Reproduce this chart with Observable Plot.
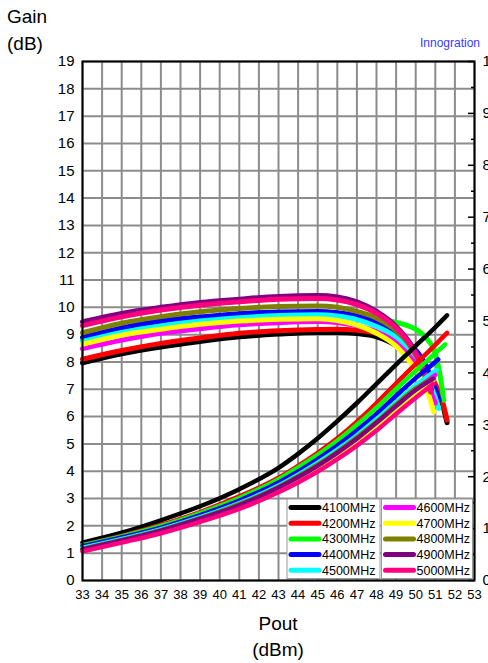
<!DOCTYPE html>
<html><head><meta charset="utf-8">
<script src="https://cdn.jsdelivr.net/npm/d3@7"></script>
<script src="https://cdn.jsdelivr.net/npm/@observablehq/plot@0.6"></script>
<style>
html,body{margin:0;padding:0;background:#fff;}
#wrap{position:relative;width:488px;height:663px;overflow:hidden;font-family:"Liberation Sans",Arial,sans-serif;}
#wrap svg{position:absolute;left:0;top:0;}
</style></head><body><div id="wrap"></div>
<script>
const freqs = ["4100MHz","4200MHz","4300MHz","4400MHz","4500MHz","4600MHz","4700MHz","4800MHz","4900MHz","5000MHz"];
const colors = ["#000000","#ff0000","#00ff00","#0000ff","#00ffff","#ff00ff","#ffff00","#808000","#800080","#ff0080"];

// Gain (dB) vs Pout (dBm)
const gain4100 = [[33,7.97],[35,8.3],[37,8.55],[39,8.75],[41,8.92],[43,9.02],[45,9.08],[46,9.08],[47,9.04],[48,8.92],[49,8.6],[50,8.0],[50.8,7.2],[51.35,6.5],[51.6,5.78]];
const gain4200 = [[33,8.1],[35,8.42],[37,8.68],[39,8.88],[41,9.05],[43,9.14],[45,9.19],[46,9.2],[47,9.16],[48,9.05],[49,8.75],[50,8.2],[50.8,7.45],[51.35,6.6],[51.6,5.87]];
const gain4300 = [[33,8.8],[35,9.1],[37,9.35],[39,9.52],[41,9.65],[43,9.73],[45,9.78],[46,9.77],[47,9.72],[48,9.62],[49,9.45],[49.5,9.35],[50,9.2],[50.5,8.9],[51,8.3],[51.2,7.7],[51.43,6.6]];
const gain4400 = [[33,8.9],[35,9.25],[37,9.5],[39,9.65],[41,9.77],[43,9.83],[45,9.85],[46,9.8],[47,9.68],[48,9.45],[49,9.1],[49.8,8.6],[50.5,7.9],[51.0,7.0],[51.2,6.6]];
const gain4500 = [[33,8.75],[35,9.08],[37,9.32],[39,9.5],[41,9.62],[43,9.7],[45,9.73],[46,9.68],[47,9.55],[48,9.3],[49,8.9],[49.8,8.3],[50.5,7.5],[51.0,6.7],[51.18,6.3]];
const gain4600 = [[33,8.49],[35,8.8],[37,9.05],[39,9.22],[41,9.36],[43,9.44],[45,9.48],[46,9.44],[47,9.32],[48,9.1],[49,8.7],[49.8,8.1],[50.5,7.3],[51.0,6.5]];
const gain4700 = [[33,8.65],[35,8.98],[37,9.2],[39,9.38],[41,9.5],[43,9.56],[45,9.58],[46,9.52],[47,9.35],[48,9.05],[49,8.58],[49.9,7.82],[50.58,6.97],[50.92,6.17]];
const gain4800 = [[33,9.07],[35,9.42],[37,9.66],[39,9.84],[41,9.96],[43,10.03],[45,10.05],[46,10.0],[47,9.85],[48,9.6],[49,9.15],[49.7,8.6],[50.3,7.8],[50.75,6.9]];
const gain4900 = [[33,9.47],[35,9.78],[37,10.0],[39,10.18],[41,10.3],[43,10.4],[45,10.43],[46,10.38],[47,10.2],[48,9.85],[49,9.3],[49.7,8.7],[50.25,8.0],[50.8,7.0]];
const gain5000 = [[33,9.33],[35,9.65],[37,9.9],[39,10.08],[41,10.2],[43,10.3],[45,10.32],[46,10.27],[47,10.1],[48,9.78],[49,9.25],[49.7,8.65],[50.3,7.9],[50.8,6.9]];

// Efficiency (%) vs Pout (dBm), right axis
const eff4100 = [[33,7.3],[35,9.2],[37,11.6],[39,14.3],[41,17.6],[43,21.7],[44,24.4],[45,27.4],[46,30.7],[47,34.2],[48,37.9],[49,41.6],[50,45.2],[51,48.8],[51.6,51.1]];
const eff4200 = [[33,6.8],[35,8.6],[37,10.7],[39,13.2],[41,16.2],[43,19.8],[44,22.1],[45,24.6],[46,27.4],[47,30.6],[48,34.2],[49,38.0],[50,41.7],[51,45.4],[51.6,47.7]];
const eff4300 = [[33,6.8],[35,8.5],[37,10.5],[39,13.0],[41,15.9],[43,19.5],[44,21.8],[45,24.2],[46,26.9],[47,30.0],[48,33.3],[49,36.9],[50,40.4],[51,43.8],[51.5,45.5]];
const eff4400 = [[33,6.6],[35,8.3],[37,10.2],[39,12.6],[41,15.4],[43,18.9],[44,21.0],[45,23.4],[46,26.0],[47,28.9],[48,32.1],[49,35.6],[50,39.0],[51,42.1],[51.15,42.6]];
const eff4500 = [[33,6.3],[35,8.0],[37,9.9],[39,12.2],[41,14.9],[43,18.3],[44,20.4],[45,22.7],[46,25.2],[47,28.0],[48,31.1],[49,34.4],[50,37.6],[51.07,40.6]];
const eff4600 = [[33,5.9],[35,7.6],[37,9.5],[39,11.8],[41,14.4],[43,17.8],[44,19.8],[45,22.0],[46,24.4],[47,27.2],[48,30.3],[49,33.6],[50,36.8],[51.0,39.6]];
const eff4700 = [[33,5.9],[35,7.5],[37,9.4],[39,11.6],[41,14.2],[43,17.5],[44,19.5],[45,21.7],[46,24.1],[47,26.8],[48,29.8],[49,33.1],[50,36.2],[50.9,38.6]];
const eff4800 = [[33,6.1],[35,7.8],[37,9.7],[39,12.0],[41,14.7],[43,18.0],[44,20.1],[45,22.3],[46,24.8],[47,27.6],[48,30.6],[49,33.9],[50,37.0],[50.8,38.8]];
const eff4900 = [[33,6.0],[35,7.7],[37,9.6],[39,11.9],[41,14.5],[43,17.9],[44,19.9],[45,22.1],[46,24.6],[47,27.3],[48,30.4],[49,33.6],[50,36.7],[50.9,38.9]];
const eff5000 = [[33,5.6],[35,7.3],[37,9.1],[39,11.3],[41,13.8],[43,17.0],[44,18.9],[45,21.0],[46,23.4],[47,26.0],[48,28.9],[49,32.1],[50,35.2],[50.9,37.9]];

const xTicks = [33,34,35,36,37,38,39,40,41,42,43,44,45,46,47,48,49,50,51,52,53];
const yTicks = [0,1,2,3,4,5,6,7,8,9,10,11,12,13,14,15,16,17,18,19];
const effTicks = [0,10,20,30,40,50,60,70,80,90,100];
const effMinor = [5,15,25,35,45,55,65,75,85,95];
const EFF_MAX = 100, GAIN_MAX = 19;
const effToY = e => e * GAIN_MAX / EFF_MAX;

const gainSeries = [gain4100,gain4200,gain4300,gain4400,gain4500,gain4600,gain4700,gain4800,gain4900,gain5000];
const effSeries = [eff4100,eff4200,eff4300,eff4400,eff4500,eff4600,eff4700,eff4800,eff4900,eff5000];

const gainRows = gainSeries.flatMap((s,i) => s.map(([p,g]) => ({pout:p, val:g, freq:freqs[i]})));
const effRows = effSeries.flatMap((s,i) => s.map(([p,e]) => ({pout:p, val:effToY(e), freq:freqs[i]})));

const font = "'Liberation Sans', Arial, sans-serif";

const chart = Plot.plot({
  width: 488, height: 663,
  marginTop: 61, marginBottom: 83, marginLeft: 82, marginRight: 14,
  style: {fontFamily: font, background: "transparent", color: "#000"},
  x: {domain: [33, 53], label: null},
  y: {domain: [0, 19], label: null},
  color: {domain: freqs, range: colors},
  marks: [
    Plot.gridX(xTicks, {stroke: "#8c8c8c", strokeOpacity: 1, strokeWidth: 2}),
    Plot.gridY(yTicks, {stroke: "#8c8c8c", strokeOpacity: 1, strokeWidth: 2}),
    Plot.line(gainRows, {x: "pout", y: "val", z: "freq", stroke: "freq", strokeWidth: 5, curve: "monotone-x", strokeLinecap: "round", strokeLinejoin: "round"}),
    Plot.line(effRows, {x: "pout", y: "val", z: "freq", stroke: "freq", strokeWidth: 4.5, curve: "monotone-x", strokeLinecap: "round", strokeLinejoin: "round"}),
    Plot.frame({stroke: "#000", strokeWidth: 2}),
    Plot.axisX({ticks: xTicks, tickSize: 0, tickPadding: 9, fontSize: 13, label: null, tickFormat: d => String(d)}),
    Plot.axisY({anchor: "left", ticks: yTicks, tickSize: 0, tickPadding: 8, fontSize: 15, label: null, tickFormat: d => String(d)}),
    Plot.axisY({anchor: "right", ticks: effTicks.map(effToY), tickSize: -7, strokeWidth: 1.5, label: null, tickFormat: () => ""}),
    Plot.axisY({anchor: "right", ticks: effMinor.map(effToY), tickSize: -4, strokeWidth: 1.5, label: null, tickFormat: () => ""}),
    Plot.axisY({anchor: "right", ticks: effTicks.map(effToY), tickSize: 0, tickPadding: 8, fontSize: 15, label: null, tickFormat: v => String(Math.round(v * EFF_MAX / GAIN_MAX))})
  ]
});

const wrap = document.getElementById("wrap");
wrap.appendChild(chart);

// Overlay: titles and legend
const svg = d3.select(wrap).append("svg").attr("width", 488).attr("height", 663)
  .style("font-family", font);

svg.append("text").attr("x", 7).attr("y", 23).attr("font-size", 19).text("Gain");
svg.append("text").attr("x", 7).attr("y", 50).attr("font-size", 19).text("(dB)");
svg.append("text").attr("x", 420).attr("y", 47).attr("font-size", 12).attr("fill", "#3a3aff").text("Innogration");
svg.append("text").attr("x", 278).attr("y", 630).attr("font-size", 19).attr("text-anchor", "middle").text("Pout");
svg.append("text").attr("x", 278).attr("y", 656).attr("font-size", 19).attr("text-anchor", "middle").text("(dBm)");

// Legend: two columns of five
const legCols = [{x0: 287, x1: 380}, {x0: 381.5, x1: 472.5}];
const legTop = 499, legBottom = 578.5;
legCols.forEach(c => {
  svg.append("rect").attr("x", c.x0).attr("y", legTop).attr("width", c.x1 - c.x0).attr("height", legBottom - legTop)
    .attr("fill", "#fff").attr("stroke", "#9a9a9a").attr("stroke-width", 1);
});
freqs.forEach((f, i) => {
  const c = legCols[Math.floor(i / 5)];
  const y = 507.5 + (i % 5) * 15.7;
  svg.append("line").attr("x1", c.x0 + 4).attr("x2", c.x0 + 32).attr("y1", y).attr("y2", y)
    .attr("stroke", colors[i]).attr("stroke-width", 5).attr("stroke-linecap", "round");
  svg.append("text").attr("x", c.x0 + 35).attr("y", y + 4.5).attr("font-size", 12.5).text(f);
});
</script>
</body></html>
